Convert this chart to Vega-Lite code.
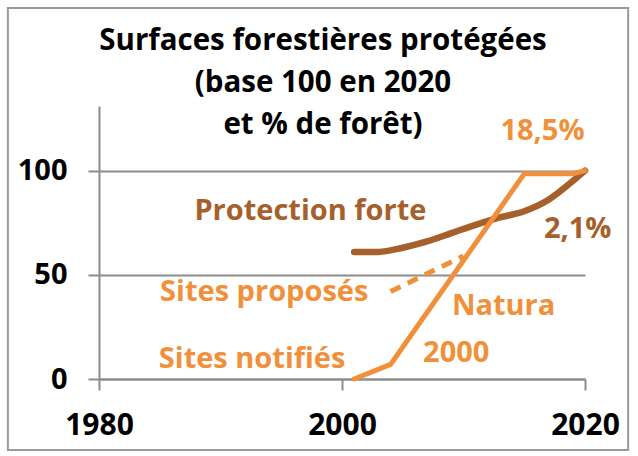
{
  "$schema": "https://vega.github.io/schema/vega-lite/v6.json",
  "width": 486,
  "height": 273,
  "autosize": {"type": "none"},
  "padding": {"left": 99, "top": 106, "right": 53, "bottom": 77},
  "background": "white",
  "config": {
    "view": {"stroke": null},
    "font": "Open Sans",
    "axis": {
      "domain": true,
      "domainColor": "#8c8c8c",
      "domainWidth": 2,
      "ticks": true,
      "tickSize": 11,
      "tickColor": "#8c8c8c",
      "tickWidth": 2,
      "labelFont": "Open Sans",
      "labelFontWeight": "bold",
      "labelColor": "#000000",
      "gridColor": "#8c8c8c",
      "gridWidth": 2
    },
    "axisX": {"grid": false, "labelFontSize": 30, "labelPadding": 20, "labelFlush": false, "labelOverlap": false},
    "axisY": {"grid": true, "labelFontSize": 29, "labelPadding": 21, "labelOverlap": false}
  },
  "title": {
    "text": ["Surfaces forestières protégées", "(base 100 en 2020", "et % de forêt)"],
    "font": "Open Sans",
    "fontSize": 29.5,
    "fontWeight": "bold",
    "color": "#000000",
    "lineHeight": 42,
    "anchor": "middle",
    "frame": "group",
    "dx": -19,
    "offset": -133
  },
  "datasets": {
    "series": [
      {"series": "Protection forte", "year": 2001, "value": 61},
      {"series": "Protection forte", "year": 2003, "value": 61},
      {"series": "Protection forte", "year": 2005, "value": 63},
      {"series": "Protection forte", "year": 2007, "value": 66},
      {"series": "Protection forte", "year": 2009, "value": 70},
      {"series": "Protection forte", "year": 2011, "value": 74},
      {"series": "Protection forte", "year": 2013, "value": 77.5},
      {"series": "Protection forte", "year": 2015, "value": 80.5},
      {"series": "Protection forte", "year": 2017, "value": 86},
      {"series": "Protection forte", "year": 2019, "value": 95},
      {"series": "Protection forte", "year": 2020, "value": 100},
      {"series": "Sites notifiés", "year": 2001, "value": 0},
      {"series": "Sites notifiés", "year": 2004, "value": 7},
      {"series": "Sites notifiés", "year": 2015, "value": 98.5},
      {"series": "Sites notifiés", "year": 2019, "value": 98.5},
      {"series": "Sites notifiés", "year": 2020, "value": 100},
      {"series": "Sites proposés", "year": 2004, "value": 42},
      {"series": "Sites proposés", "year": 2010, "value": 59}
    ],
    "labels": [
      {"label": "18,5%", "series": "Sites notifiés", "year": 2016.5, "value": 114.7},
      {"label": "Protection forte", "series": "Protection forte", "year": 1997.4, "value": 76.3},
      {"label": "2,1%", "series": "Protection forte", "year": 2019.4, "value": 67.8},
      {"label": "Sites proposés", "series": "Sites proposés", "year": 1993.6, "value": 37.4},
      {"label": "Natura", "series": "Sites notifiés", "year": 2013.3, "value": 30.7},
      {"label": "2000", "series": "Sites notifiés", "year": 2009.4, "value": 8.2},
      {"label": "Sites notifiés", "series": "Sites notifiés", "year": 1992.6, "value": 5.3}
    ]
  },
  "layer": [
    {
      "data": {"name": "series"},
      "transform": [{"filter": "datum.series === 'Protection forte'"}],
      "mark": {"type": "line", "interpolate": "monotone", "strokeWidth": 6.5, "strokeCap": "round", "color": "#a5602b", "clip": false},
      "encoding": {
        "x": {"field": "year", "type": "quantitative", "scale": {"domain": [1980, 2020], "nice": false, "zero": false}, "axis": {"title": null, "values": [1980, 2000, 2020], "format": "d"}},
        "y": {"field": "value", "type": "quantitative", "scale": {"domain": [0, 131], "nice": false, "zero": true}, "axis": {"title": null, "values": [0, 50, 100]}}
      }
    },
    {
      "data": {"name": "series"},
      "transform": [{"filter": "datum.series === 'Sites notifiés'"}],
      "mark": {"type": "line", "strokeWidth": 5, "strokeCap": "round", "strokeJoin": "miter", "color": "#f0903a", "clip": false},
      "encoding": {
        "x": {"field": "year", "type": "quantitative", "scale": {"domain": [1980, 2020], "nice": false, "zero": false}, "axis": {"title": null, "values": [1980, 2000, 2020], "format": "d"}},
        "y": {"field": "value", "type": "quantitative", "scale": {"domain": [0, 131], "nice": false, "zero": true}, "axis": {"title": null, "values": [0, 50, 100]}}
      }
    },
    {
      "data": {"name": "series"},
      "transform": [{"filter": "datum.series === 'Sites proposés'"}],
      "mark": {"type": "line", "strokeWidth": 5, "strokeDash": [11, 8], "strokeCap": "butt", "color": "#f0903a", "clip": false},
      "encoding": {
        "x": {"field": "year", "type": "quantitative", "scale": {"domain": [1980, 2020], "nice": false, "zero": false}, "axis": {"title": null, "values": [1980, 2000, 2020], "format": "d"}},
        "y": {"field": "value", "type": "quantitative", "scale": {"domain": [0, 131], "nice": false, "zero": true}, "axis": {"title": null, "values": [0, 50, 100]}}
      }
    },
    {
      "data": {"name": "labels"},
      "mark": {"type": "text", "font": "Open Sans", "fontSize": 29, "fontWeight": "bold", "align": "center", "baseline": "alphabetic", "clip": false},
      "encoding": {
        "x": {"field": "year", "type": "quantitative", "scale": {"domain": [1980, 2020], "nice": false, "zero": false}, "axis": {"title": null, "values": [1980, 2000, 2020], "format": "d"}},
        "y": {"field": "value", "type": "quantitative", "scale": {"domain": [0, 131], "nice": false, "zero": true}, "axis": {"title": null, "values": [0, 50, 100]}},
        "text": {"field": "label", "type": "nominal"},
        "color": {
          "field": "series",
          "type": "nominal",
          "scale": {
            "domain": ["Protection forte", "Sites notifiés", "Sites proposés"],
            "range": ["#a5602b", "#f0903a", "#f0903a"]
          },
          "legend": null
        }
      }
    },
    {
      "data": {"values": [{"frame": "cadre"}]},
      "mark": {"type": "rect", "filled": false, "stroke": "#9a9a9a", "strokeWidth": 2, "clip": false},
      "encoding": {
        "x": {"datum": 1972.5, "type": "quantitative", "scale": {"domain": [1980, 2020], "nice": false, "zero": false}, "axis": {"title": null, "values": [1980, 2000, 2020], "format": "d"}},
        "x2": {"datum": 2023.55},
        "y": {"datum": 178, "type": "quantitative", "scale": {"domain": [0, 131], "nice": false, "zero": true}, "axis": {"title": null, "values": [0, 50, 100]}},
        "y2": {"datum": -34.1}
      }
    }
  ]
}
